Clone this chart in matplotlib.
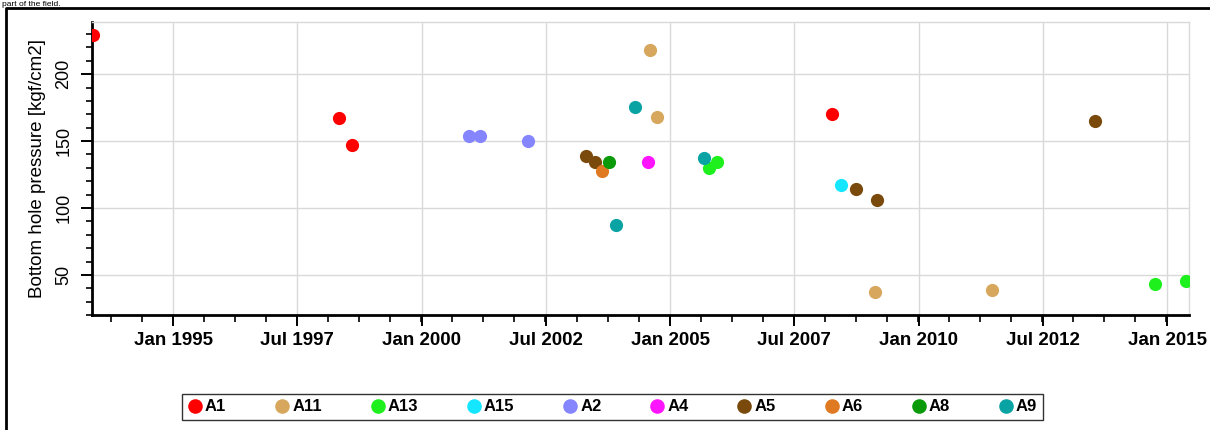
import pandas as pd
import matplotlib
matplotlib.use("Agg")
import matplotlib.pyplot as plt
import matplotlib.dates as mdates
from matplotlib.lines import Line2D
from matplotlib.ticker import FixedLocator, MultipleLocator, AutoMinorLocator

plt.rcParams['font.family'] = ['Liberation Sans', 'DejaVu Sans']

# wells, in legend order
wells = ['A1', 'A11', 'A13', 'A15', 'A2', 'A4', 'A5', 'A6', 'A8', 'A9']
colors = ['#ff0000', '#d6a75c', '#1ef01e', '#14e6ff', '#8585ff',
          '#ff14ff', '#7a4a0c', '#e07a22', '#0a9a0a', '#0aa3a3']

# measurement dates and bottom hole pressure per well
dates = {
    'A1': ['1993-05-22', '1998-05-01', '1998-08-07', '2008-04-05'],
    'A11': ['2004-08-07', '2004-09-24', '2009-02-14', '2011-06-21'],
    'A13': ['2005-10-16', '2005-12-10', '2014-10-05', '2015-05-22'],
    'A15': ['2008-06-10'],
    'A2': ['2000-12-13', '2001-03-07', '2002-02-17'],
    'A4': ['2004-07-23'],
    'A5': ['2003-04-23', '2003-06-28', '2008-09-24', '2009-03-01', '2013-07-16'],
    'A6': ['2003-08-15'],
    'A8': ['2003-10-12'],
    'A9': ['2003-12-02', '2004-04-16', '2005-09-09'],
}
pressure = {
    'A1': [229, 167.5, 147, 170.5],
    'A11': [218, 168, 37, 39],
    'A13': [130, 134.5, 43.5, 45.5],
    'A15': [117],
    'A2': [154, 154, 150],
    'A4': [134],
    'A5': [139, 134.5, 114.5, 106, 165],
    'A6': [127.5],
    'A8': [134.5],
    'A9': [87, 175.5, 137],
}

tick_dates = ['1995-01-01', '1997-07-01', '2000-01-01', '2002-07-01', '2005-01-01',
              '2007-07-01', '2010-01-01', '2012-07-01', '2015-01-01']
tick_labels = ['Jan 1995', 'Jul 1997', 'Jan 2000', 'Jul 2002', 'Jan 2005',
               'Jul 2007', 'Jan 2010', 'Jul 2012', 'Jan 2015']
x_range = ['1993-05-12', '2015-06-10']
y_range = [20, 239]

fig = plt.figure(figsize=(12.1, 4.3), dpi=100)
ax = fig.add_axes([0.0758, 0.2674, 0.9068, 0.6814])

handles = []
for well, col in zip(wells, colors):
    x = pd.to_datetime(dates[well])
    ax.plot(x, pressure[well], 'o', color=col, markersize=9.5,
            markeredgewidth=0, clip_on=True, zorder=3)
    handles.append(Line2D([0], [0], marker='o', linestyle='', color=col,
                          markersize=10.5, markeredgewidth=0, label=well))

ax.set_xlim(mdates.date2num(pd.to_datetime(x_range)))
ax.set_ylim(y_range)

ax.xaxis.set_major_locator(FixedLocator(mdates.date2num(pd.to_datetime(tick_dates))))
ax.set_xticklabels(tick_labels, fontsize=13.5, fontweight='bold')
ax.xaxis.set_minor_locator(AutoMinorLocator(4))
ax.yaxis.set_major_locator(MultipleLocator(50))
ax.yaxis.set_minor_locator(MultipleLocator(10))
for lbl in ax.get_yticklabels():
    lbl.set_rotation(90)
    lbl.set_va('center')
    lbl.set_fontsize(13)

ax.tick_params(axis='x', which='major', direction='out', length=8, width=1.4, pad=4)
ax.tick_params(axis='x', which='minor', direction='out', length=5, width=1.2)
ax.tick_params(axis='y', which='major', direction='out', length=8, width=1.4, pad=6)
ax.tick_params(axis='y', which='minor', direction='out', length=4, width=1.2)

ax.grid(True, which='major', color='#d9d9d9', linewidth=1)
ax.set_axisbelow(True)
for side in ['left', 'bottom']:
    ax.spines[side].set_linewidth(2)
    ax.spines[side].set_color('black')
for side in ['top', 'right']:
    ax.spines[side].set_linewidth(1)
    ax.spines[side].set_color('#d9d9d9')

ax.set_ylabel('Bottom hole pressure [kgf/cm2]', fontsize=13.5, labelpad=7)

# legend at the bottom
leg = fig.legend(handles=handles, loc='center', bbox_to_anchor=(0.506, 0.0535),
                 ncol=10, frameon=True, fancybox=False, edgecolor='black',
                 prop={'weight': 'bold', 'size': 12}, handlelength=0.9,
                 handletextpad=0.15, columnspacing=2.9, borderpad=0.35)
leg.get_frame().set_linewidth(1)

# outer frame of the figure
fig.add_artist(Line2D([6 / 1210, 6 / 1210, 1.01], [-0.01, 1 - 8 / 430, 1 - 8 / 430],
                      transform=fig.transFigure, color='black', linewidth=2))

# caption above the frame (cut off in the source image)
fig.text(0.002, 1 - 0.5 / 430, 'part of the field.', fontsize=6, va='top', ha='left')

fig.savefig('out.png', dpi=100)
